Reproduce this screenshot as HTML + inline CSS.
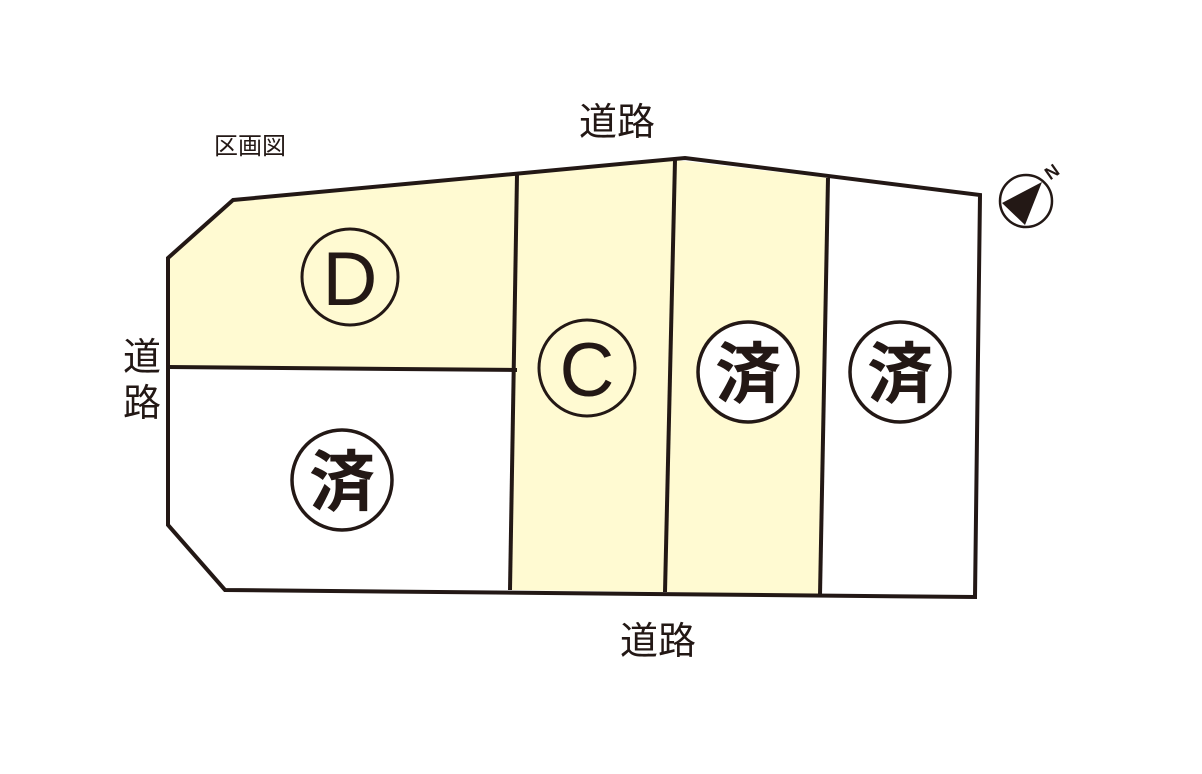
<!DOCTYPE html>
<html><head><meta charset="utf-8"><style>
html,body{margin:0;padding:0;background:#fff;}
svg text{font-family:"Liberation Sans","Noto Sans CJK JP",sans-serif;fill:#231815;}
</style></head><body>
<svg width="1202" height="769" viewBox="0 0 1202 769" xmlns="http://www.w3.org/2000/svg">
<polygon points="233,200 168,258 168,367 517,370 517,175" fill="#fffad2"/>
<polygon points="517,175 675,160 665,592 510,590" fill="#fffad2"/>
<polygon points="675,160 828,178 820,595 665,592" fill="#fffad2"/>
<g stroke="#231815" stroke-width="4" fill="none" stroke-linejoin="miter">
<polygon points="233,200 685,158 980,195 975,597 225,590 168,525 168,258"/>
<line x1="517" y1="175" x2="510" y2="590"/>
<line x1="675" y1="160" x2="665" y2="592"/>
<line x1="828" y1="178" x2="820" y2="595"/>
<line x1="168" y1="367" x2="517" y2="370"/>
</g>
<g stroke="#231815" stroke-width="3" fill="none">
<circle cx="350" cy="277" r="48"/>
<circle cx="587" cy="368" r="48"/>
</g>
<g stroke="#231815" stroke-width="3.5" fill="#fff">
<circle cx="748" cy="372" r="50"/>
<circle cx="900" cy="372" r="50"/>
<circle cx="342" cy="480" r="50"/>
</g>
<text x="350" y="305" font-size="76" text-anchor="middle">D</text>
<text x="587" y="396" font-size="76" text-anchor="middle">C</text>
<text x="748" y="397" font-size="66" font-weight="bold" text-anchor="middle">済</text>
<text x="900" y="397" font-size="66" font-weight="bold" text-anchor="middle">済</text>
<text x="342" y="505" font-size="66" font-weight="bold" text-anchor="middle">済</text>
<text x="617" y="135" font-size="38" text-anchor="middle">道路</text>
<text x="658" y="654" font-size="38" text-anchor="middle">道路</text>
<text x="142" y="370" font-size="38" text-anchor="middle">道</text>
<text x="142" y="416" font-size="38" text-anchor="middle">路</text>
<text x="250" y="154" font-size="24" text-anchor="middle">区画図</text>
<circle cx="1026" cy="201" r="26" stroke="#231815" stroke-width="2.5" fill="none"/>
<polygon points="1002,203 1042,182 1025,225" fill="#231815"/>
<text x="1052" y="178" font-size="18" font-weight="bold" text-anchor="middle" transform="rotate(-35 1052 172)">N</text>
</svg>
</body></html>
